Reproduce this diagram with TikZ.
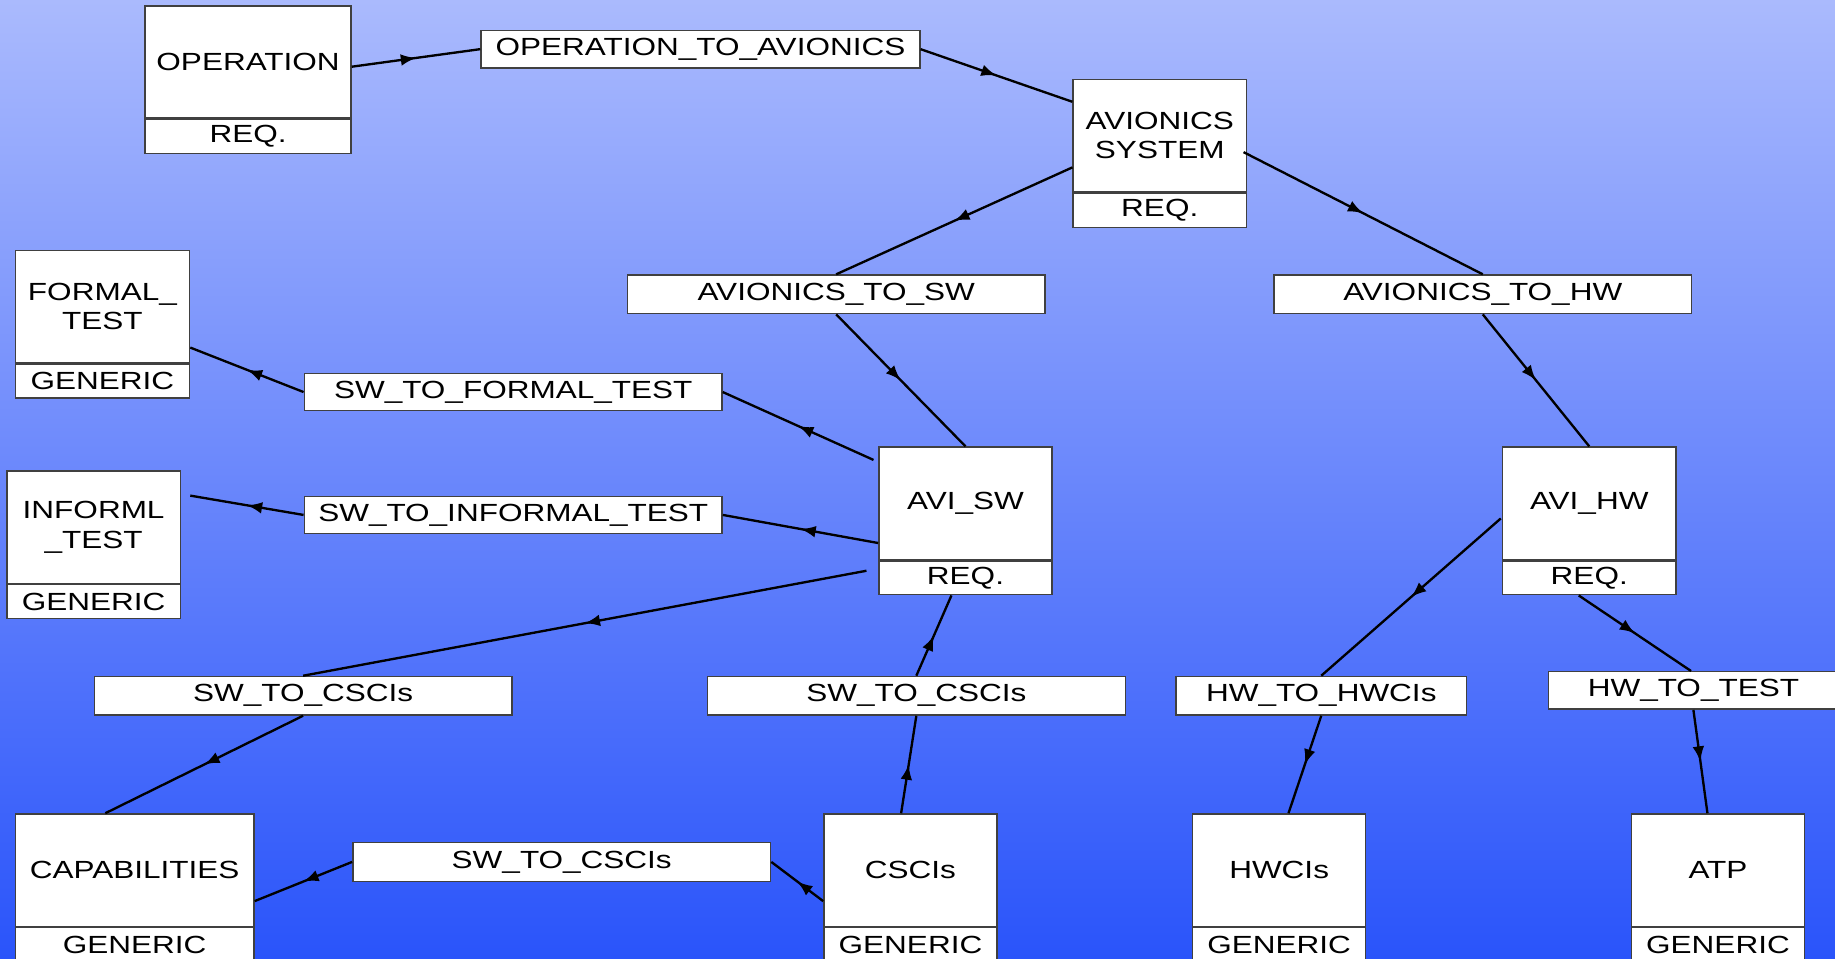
\documentclass[tikz,border=0pt]{standalone}
\usepackage{fontspec}
\setmainfont{Liberation Sans}[FakeStretch=1.27]
\usetikzlibrary{decorations.markings,arrows.meta,calc}
\definecolor{bgtop}{RGB}{170,186,253}
\definecolor{bgbot}{RGB}{42,84,250}
\begin{document}
\begin{tikzpicture}[x=0.5pt,y=-0.5pt,
  font=\fontsize{10.6pt}{12.5pt}\selectfont,
  ent/.style={draw=black!75, line width=0.6pt, fill=white, minimum width=74pt, minimum height=48pt, inner sep=0pt, align=center},
  entb/.style={draw=black!75, line width=0.6pt, fill=white, minimum width=74pt, minimum height=14.5pt, inner sep=0pt, anchor=north},
  rel/.style={draw=black!75, line width=0.6pt, fill=white, minimum width=178.5pt, minimum height=16.5pt, inner sep=0pt},
  conn/.style={line width=1pt, postaction={decorate}, decoration={markings, mark=at position 0.5 with {\arrow{Latex[length=6.5pt,width=5pt]}}}}]
\useasboundingbox (0,0) rectangle (1568,819);
\shade[top color=bgtop, bottom color=bgbot] (0,0) rectangle (1568,819);

% entity boxes
\node[ent, minimum width=88pt] (op) at (212,53) {OPERATION};
\node[entb, minimum width=88pt] (opb) at (op.south) {REQ.};
\node[ent] (avs) at (991,116) {AVIONICS\\SYSTEM};
\node[entb] (avsb) at (avs.south) {REQ.};
\node[ent, minimum width=74.5pt] (fml) at (87.5,262) {FORMAL\_\\TEST};
\node[entb, minimum width=74.5pt] (fmlb) at (fml.south) {GENERIC};
\node[ent] (inf) at (80,450.5) {INFORML\\\_TEST};
\node[entb] (infb) at (inf.south) {GENERIC};
\node[ent] (asw) at (825,430) {AVI\_SW};
\node[entb] (aswb) at (asw.south) {REQ.};
\node[ent] (ahw) at (1358,430) {AVI\_HW};
\node[entb] (ahwb) at (ahw.south) {REQ.};
\node[ent, minimum width=102pt] (cap) at (115,743.5) {CAPABILITIES};
\node[entb, minimum width=102pt] (capb) at (cap.south) {GENERIC};
\node[ent] (csc) at (778,743.5) {CSCIs};
\node[entb] (cscb) at (csc.south) {GENERIC};
\node[ent] (hwc) at (1093,743.5) {HWCIs};
\node[entb] (hwcb) at (hwc.south) {GENERIC};
\node[ent] (atp) at (1468,743.5) {ATP};
\node[entb] (atpb) at (atp.south) {GENERIC};

% relation boxes
\node[rel, minimum width=187.5pt, minimum height=16pt] (o2a) at (598.5,42) {OPERATION\_TO\_AVIONICS};
\node[rel] (a2s) at (714.5,251.5) {AVIONICS\_TO\_SW};
\node[rel] (a2h) at (1267,251.5) {AVIONICS\_TO\_HW};
\node[rel, minimum height=16pt] (s2f) at (438.5,335) {SW\_TO\_FORMAL\_TEST};
\node[rel, minimum height=16pt] (s2i) at (438.5,440) {SW\_TO\_INFORMAL\_TEST};
\node[rel] (s2cL) at (259,594.5) {SW\_TO\_CSCIs};
\node[rel] (s2cM) at (783,594.5) {SW\_TO\_CSCIs};
\node[rel, minimum width=124pt] (h2h) at (1129,594.5) {HW\_TO\_HWCIs};
\node[rel, minimum width=124pt, minimum height=16pt] (h2t) at (1447,590) {HW\_TO\_TEST};
\node[rel] (s2cB) at (480,736.5) {SW\_TO\_CSCIs};

% connectors
\draw[conn] ($(op.east)+(0,4)$) -- (o2a.west);
\draw[conn] (o2a.east) -- ($(avs.west)+(0,-29)$);
\draw[conn] ($(avs.west)+(0,27)$) -- (a2s.north);
\draw[conn] ($(avs.east)+(-3,14)$) -- (a2h.north);
\draw[conn] (a2s.south) -- (asw.north);
\draw[conn] (a2h.south) -- (ahw.north);
\draw[conn] ($(asw.west)+(-4,-37)$) -- (s2f.east);
\draw[conn] (s2f.west) -- ($(fml.east)+(0,35)$);
\draw[conn] ($(asw.west)+(0,34)$) -- (s2i.east);
\draw[conn] (s2i.west) -- ($(inf.east)+(8,-27)$);
\draw[conn] ($(aswb.west)+(-10,-6)$) -- (s2cL.north);
\draw[conn] (s2cL.south) -- ($(cap.north)+(-25,0)$);
\draw[conn] ($(csc.north)+(-8,0)$) -- (s2cM.south);
\draw[conn] (s2cM.north) -- ($(aswb.south)+(-12,0)$);
\draw[conn] ($(csc.west)+(0,26.5)$) -- (s2cB.east);
\draw[conn] (s2cB.west) -- ($(cap.east)+(0,26.5)$);
\draw[conn] ($(ahw.west)+(-1,13)$) -- (h2h.north);
\draw[conn] (h2h.south) -- ($(hwc.north)+(8,0)$);
\draw[conn] ($(ahwb.south)+(-9,0)$) -- ($(h2t.north)+(-2,0)$);
\draw[conn] (h2t.south) -- ($(atp.north)+(-9,0)$);
\end{tikzpicture}
\end{document}
